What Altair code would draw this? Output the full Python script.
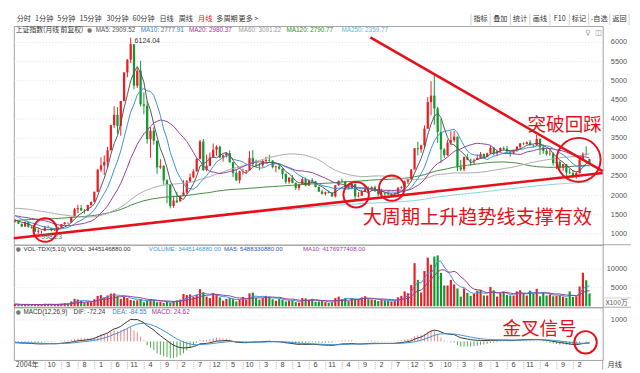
import altair as alt
import pandas as pd

# ---------------- data (monthly, 2004-11 .. 2019-05) ----------------
opens = [
    1320, 1340,
    1261, 1190, 1306, 1180, 1160, 1060, 1080, 1083, 1162, 1155, 1092, 1099,
    1163, 1258, 1299, 1298, 1440, 1641, 1672, 1612, 1601, 1752, 1837, 2099,
    2675, 2786, 2881, 3183, 3841, 4109, 3820, 4471, 5218, 5552, 5955, 4871,
    5262, 4383, 4348, 3473, 3693, 3433, 2736, 2776, 2397, 2293, 1729, 1871,
    1849, 1991, 2082, 2373, 2477, 2632, 2959, 3412, 2667, 2779, 2995, 3195,
    3277, 2989, 3051, 3110, 2870, 2593, 2398, 2638, 2638, 2656, 2978, 2820,
    2808, 2790, 2905, 2928, 2911, 2743, 2762, 2701, 2567, 2359, 2468, 2333,
    2199, 2292, 2428, 2262, 2396, 2373, 2225, 2103, 2047, 2086, 2069, 1980,
    2269, 2385, 2366, 2237, 2178, 2301, 1979, 1994, 2098, 2175, 2142, 2220,
    2116, 2033, 2056, 2033, 2026, 2039, 2048, 2201, 2217, 2364, 2420, 2683,
    3235, 3210, 3310, 3748, 4442, 4612, 4277, 3664, 3206, 3053, 3383, 3445,
    3539, 2738, 2688, 3004, 2938, 2917, 2930, 2979, 3085, 3005, 3100, 3250,
    3104, 3159, 3242, 3223, 3155, 3117, 3192, 3273, 3361, 3349, 3393, 3317,
    3307, 3481, 3259, 3169, 3082, 3095, 2847, 2876, 2725, 2821, 2603, 2588,
    2497, 2584, 2941, 3091, 2954,
]
highs = [
    1388, 1345,
    1270, 1328, 1317, 1222, 1164, 1147, 1084, 1208, 1223, 1157, 1113, 1180,
    1262, 1304, 1302, 1445, 1677, 1758, 1757, 1648, 1762, 1840, 2102, 2698,
    2994, 3050, 3275, 3848, 4335, 4312, 4471, 5219, 5562, 6124.04, 5914, 5330,
    5523, 4695, 4473, 3786, 3786, 3434, 2952, 2794, 2428, 2301, 2000, 2101,
    2010, 2402, 2405, 2579, 2689, 2975, 3454, 3478, 3068, 3123, 3361, 3313,
    3306, 3074, 3137, 3181, 2880, 2690, 2650, 2705, 2671, 3159, 3186, 2940,
    2853, 2942, 3017, 3067, 2925, 2781, 2826, 2713, 2581, 2475, 2536, 2339,
    2302, 2478, 2477, 2416, 2453, 2378, 2242, 2154, 2103, 2127, 2089, 2276,
    2394, 2445, 2383, 2268, 2335, 2315, 2092, 2148, 2270, 2242, 2243, 2260,
    2116, 2177, 2083, 2146, 2061, 2075, 2223, 2248, 2391, 2435, 2683, 3239,
    3406, 3329, 3835, 4572, 4986, 5178, 4317, 4007, 3243, 3459, 3678, 3684,
    3539, 2934, 3019, 3097, 2963, 2968, 3070, 3140, 3101, 3122, 3301, 3265,
    3174, 3260, 3284, 3295, 3157, 3193, 3291, 3373, 3392, 3420, 3451, 3327,
    3587, 3495, 3334, 3220, 3219, 3128, 2915, 2916, 2827, 2827, 2703, 2667,
    2630, 2997, 3129, 3288, 2954,
]
lows = [
    1300, 1259,
    1176, 1187, 1163, 1136, 1044, 998.23, 1004, 1078, 1142, 1067, 1074, 1095,
    1161, 1234, 1257, 1295, 1427, 1541, 1601, 1527, 1591, 1714, 1835, 2086,
    2617, 2541, 2723, 3180, 3768, 3615, 3563, 4459, 5094, 5463, 4778, 4812,
    4330, 4124, 3357, 2990, 3333, 2567, 2692, 2284, 1802, 1664, 1678, 1814,
    1844, 1990, 2037, 2352, 2462, 2630, 2940, 2640, 2639, 2763, 2990, 3039,
    2986, 2890, 2994, 2861, 2481, 2382, 2319, 2549, 2568, 2656, 2768, 2721,
    2661, 2736, 2850, 2887, 2707, 2610, 2675, 2437, 2307, 2307, 2319, 2149,
    2132, 2289, 2242, 2254, 2332, 2212, 2100, 2030, 1999, 2056, 1959, 1949,
    2259, 2349, 2224, 2161, 2166, 1849, 1951, 1992, 2093, 2124, 2130, 2095,
    1984, 2030, 1974, 2012, 1991, 2010, 2042, 2175, 2211, 2300, 2404, 2681,
    3049, 3119, 3240, 3740, 4099, 3847, 3373, 2850, 2983, 3040, 3327, 3391,
    2639, 2638, 2633, 2922, 2781, 2807, 2930, 2958, 2969, 3003, 3093, 3054,
    3044, 3139, 3180, 3111, 3017, 3081, 3145, 3209, 3318, 3339, 3301, 3254,
    3305, 3062, 3091, 3041, 3041, 2782, 2691, 2653, 2644, 2449, 2560, 2463,
    2440, 2580, 2935, 3044, 2838,
]
closes = [
    1340, 1266,
    1191, 1306, 1181, 1159, 1060, 1080, 1083, 1162, 1155, 1092, 1099, 1161,
    1258, 1299, 1298, 1440, 1641, 1672, 1612, 1601, 1752, 1837, 2099, 2675,
    2786, 2881, 3183, 3841, 4109, 3820, 4471, 5218, 5552, 5955, 4871, 5262,
    4383, 4348, 3473, 3693, 3433, 2736, 2776, 2397, 2293, 1729, 1871, 1821,
    1991, 2082, 2373, 2477, 2632, 2959, 3412, 2667, 2779, 2995, 3195, 3277,
    2989, 3051, 3110, 2870, 2593, 2398, 2638, 2639, 2656, 2978, 2820, 2808,
    2790, 2905, 2928, 2911, 2743, 2762, 2701, 2567, 2359, 2468, 2333, 2199,
    2292, 2428, 2262, 2396, 2373, 2225, 2103, 2047, 2086, 2069, 1980, 2269,
    2385, 2366, 2237, 2178, 2301, 1979, 1994, 2098, 2175, 2142, 2220, 2116,
    2033, 2056, 2033, 2026, 2039, 2048, 2201, 2217, 2364, 2420, 2683, 3235,
    3210, 3310, 3748, 4442, 4612, 4277, 3664, 3206, 3053, 3383, 3445, 3539,
    2738, 2688, 3004, 2938, 2917, 2930, 2979, 3085, 3005, 3100, 3250, 3104,
    3159, 3242, 3223, 3155, 3117, 3192, 3273, 3361, 3349, 3393, 3317, 3307,
    3481, 3259, 3169, 3082, 3095, 2847, 2876, 2725, 2821, 2603, 2588, 2494,
    2584, 2941, 3091, 3078, 2854,
]
# volume, x100万
volumes = [
    600, 450,
    400, 480, 520, 380, 420, 560, 420, 650, 580, 420, 380, 560,
    700, 800, 750, 1300, 2000, 1800, 1500, 1000, 1200, 1100, 1900, 2800,
    3000, 2400, 2900, 3400, 3500, 2700, 2000, 2500, 2200, 1700, 1500, 1600,
    2000, 1100, 1500, 1900, 1600, 1100, 1200, 900, 1300, 1000, 1400, 1600,
    1800, 3300, 3000, 3200, 2600, 3100, 4600, 3800, 2600, 2200, 3600, 3200,
    2400, 1500, 2000, 2200, 1900, 1300, 1800, 2500, 1700, 3500, 3700, 2200,
    1800, 2200, 2800, 2600, 1900, 1500, 2000, 1800, 1300, 1500, 1600, 1100,
    1000, 2200, 2100, 1700, 2000, 1200, 1300, 1400, 1100, 900, 1100, 2200,
    2600, 1900, 2200, 1400, 2200, 2000, 1900, 2400, 2700, 1900, 1800, 1700,
    1400, 1800, 1600, 1500, 1300, 1400, 2400, 2800, 4000, 3500, 5700, 11600,
    7100, 3700, 9500, 13100, 11200, 13400, 13700, 9000, 5600, 5600, 7100, 5900,
    4800, 2600, 4800, 3600, 2800, 3300, 4200, 4400, 2900, 2900, 5200, 4300,
    2600, 3500, 3900, 3000, 2900, 2900, 4000, 4300, 3500, 2900, 4200, 3400,
    4700, 2700, 3600, 2900, 3200, 2700, 2800, 2900, 2600, 2300, 4000, 2500,
    2700, 5300, 9000, 7000, 3445,
]
# earlier monthly closes (1990-12 .. 2004-10), only used for the moving averages / MACD
hist_closes = [
    127,
    129, 134, 120, 113, 114, 137, 144, 180, 180, 219, 259, 292,
    313, 365, 371, 445, 1266, 1174, 1048, 823, 665, 538, 749, 780,
    1229, 1391, 926, 1358, 1000, 1007, 1007, 925, 889, 865, 1000, 833,
    770, 792, 679, 570, 547, 466, 334, 784, 869, 691, 698, 647,
    563, 549, 643, 573, 700, 630, 712, 768, 733, 716, 625, 555,
    537, 548, 560, 694, 640, 800, 852, 800, 860, 977, 1000, 917,
    930, 985, 1165, 1352, 1300, 1199, 1177, 1195, 1097, 1207, 1128, 1194,
    1209, 1206, 1243, 1342, 1411, 1339, 1308, 1150, 1242, 1217, 1248, 1147,
    1135, 1090, 1158, 1120, 1280, 1690, 1601, 1640, 1560, 1520, 1480, 1367,
    1535, 1715, 1800, 1836, 1894, 1928, 2023, 2005, 1910, 1962, 2070, 2073,
    2066, 1960, 2112, 2119, 2214, 2218, 1920, 1834, 1724, 1690, 1748, 1646,
    1491, 1524, 1580, 1651, 1516, 1733, 1650, 1667, 1581, 1507, 1434, 1358,
    1499, 1512, 1511, 1521, 1576, 1487, 1476, 1421, 1367, 1348, 1397, 1497,
    1590, 1675, 1742, 1595, 1555, 1399, 1386, 1342, 1396, 1320,
]
price_ticks = [1000, 1500, 2000, 2500, 3000, 3500, 4000, 4500, 5000, 5500, 6000]
vol_ticks = [5000, 10000]
macd_ticks = [1000]
month_ticks = list(range(11, 175, 5))   # index of months labelled on the time axis

header_main = [("上证指数(月线 前复权)", "#333333"), ("MA5: 2909.52", "#555555"),
               ("MA10: 2777.91", "#2f86d6"), ("MA20: 2980.37", "#a0349c"),
               ("MA60: 3091.22", "#9c9c9c"), ("MA120: 2790.77", "#2f8f2a"),
               ("MA250: 2359.77", "#4fc0d8")]
header_vol = [("VOL-TDX(5,10)  VVOL: 3445146880.00", "#333333"),
              ("VOLUME: 3445146880.00", "#3a9ad9"),
              ("MA5: 5488330880.00", "#2a5caa"),
              ("MA10: 4176977408.00", "#a0409c")]
header_macd = [("MACD(12,26,9)", "#333333"), ("DIF: -72.24", "#333333"),
               ("DEA: -84.55", "#2f86d6"), ("MACD: 24.62", "#a0349c")]
toolbar_left = ["分时", "1分钟", "5分钟", "15分钟", "30分钟", "60分钟", "日线", "周线", "月线", "多周期", "更多 >"]
toolbar_right = ["指标", "叠加", "统计", "画线", "F10", "标记", "-自选", "返回"]

# ---------------- styling / layout ----------------
RED = "#ec1c24"
GREEN = "#12962f"
ANN = "#e60f1a"
W, H_MAIN, H_VOL, H_MACD = 603, 224, 64, 54
SXP = W / 611.0
SMY = H_MAIN / 232.0
CJK = "Noto Sans CJK SC"
LAT = "Liberation Sans"


def mx(xr):
    return xr * SXP


def my(yr):
    return (yr - 13) * SMY


n_hist = len(hist_closes)
N = len(closes)
df = pd.DataFrame({
    "t": list(range(-n_hist, N)),
    "close": [float(v) for v in hist_closes + closes],
    "open": [None] * n_hist + opens,
    "high": [None] * n_hist + highs,
    "low": [None] * n_hist + lows,
    "vol": [None] * n_hist + volumes,
})
s = df["close"].astype(float)
df["dif"] = s.ewm(span=12, adjust=False).mean() - s.ewm(span=26, adjust=False).mean()
df["dea"] = df["dif"].ewm(span=9, adjust=False).mean()
df["macd"] = 2 * (df["dif"] - df["dea"])

ONE = pd.DataFrame({"a": [0]})
XS = alt.Scale(domain=[-0.39, 178.0], nice=False, zero=False)
SORT = [alt.SortField(field="t", order="ascending")]
UP = alt.when("datum.close >= datum.open").then(alt.value(RED)).otherwise(alt.value(GREEN))


def X():
    return alt.X("t:Q", scale=XS, axis=None, title=None)


def txt(s_, x, y, color="#333333", size=7.2, font=LAT, align="left"):
    return alt.Chart(ONE).mark_text(align=align, baseline="middle", font=font,
                                    fontSize=size, color=color).encode(
        x=alt.value(x), y=alt.value(y), text=alt.value(s_))


def hrule(x1, x2, y, color="#a8a8a8", w=1):
    return alt.Chart(ONE).mark_rule(color=color, strokeWidth=w).encode(
        x=alt.value(x1), x2=alt.value(x2), y=alt.value(y))


def vrule(x, y1, y2, color="#a8a8a8", w=1):
    return alt.Chart(ONE).mark_rule(color=color, strokeWidth=w).encode(
        x=alt.value(x), y=alt.value(y1), y2=alt.value(y2))


def circle(t, v, r, scale):
    return alt.Chart(pd.DataFrame({"t": [t], "v": [v]})).mark_point(
        shape="circle", filled=False, size=(2 * r) ** 2, strokeWidth=2,
        color=ANN, opacity=1).encode(x=X(), y=alt.Y("v:Q", scale=scale, axis=None))


def y_grid(values, scale):
    return alt.Chart(pd.DataFrame({"v": values})).mark_rule(
        color="#dedede", strokeDash=[1, 2]).encode(
        x=alt.value(0), x2=alt.value(W), y=alt.Y("v:Q", scale=scale, axis=None))


def y_labels(values, scale):
    return alt.Chart(pd.DataFrame({"v": values})).mark_text(
        align="right", baseline="middle", font=LAT, fontSize=7.5, color="#555555").encode(
        x=alt.value(W + 25), y=alt.Y("v:Q", scale=scale, axis=None), text=alt.Text("v:Q", format="d"))


# ---------------- main price panel ----------------
PS = alt.Scale(domain=[716, 6431], nice=False, zero=False)
ma = (alt.Chart(df)
      .transform_window(ma5="mean(close)", frame=[-4, 0], sort=SORT)
      .transform_window(ma10="mean(close)", frame=[-9, 0], sort=SORT)
      .transform_window(ma20="mean(close)", frame=[-19, 0], sort=SORT)
      .transform_window(ma60="mean(close)", frame=[-59, 0], sort=SORT)
      .transform_window(ma120="mean(close)", frame=[-119, 0], sort=SORT)
      .transform_window(ma250="mean(close)", frame=[-249, 0], sort=SORT))
cand = alt.Chart(df).transform_filter("datum.t >= 0")

layers = [
    alt.Chart(ONE).mark_rect(color="white").encode(
        x=alt.value(0), x2=alt.value(632), y=alt.value(-13), y2=alt.value(0)),
    y_grid(price_ticks, PS),
    cand.mark_rule(strokeWidth=1).encode(
        x=X(), y=alt.Y("low:Q", scale=PS, axis=None), y2="high:Q", color=UP),
    cand.mark_rule(strokeWidth=2.3).encode(
        x=X(), y=alt.Y("open:Q", scale=PS, axis=None), y2="close:Q", color=UP),
]
for name, col, start in [("ma250", "#7fd3e6", 82), ("ma120", "#3d8a35", 0), ("ma60", "#aaaaaa", 0),
                         ("ma20", "#963c96", 0), ("ma10", "#3c8fd8", 0), ("ma5", "#555555", 0)]:
    layers.append(ma.transform_filter(f"datum.t >= {start}").mark_line(strokeWidth=1, color=col).encode(
        x=X(), y=alt.Y(f"{name}:Q", scale=PS, axis=None)))

# trend lines (annotation, data coordinates)
up_line = pd.DataFrame({"t": [-0.39, 178.0], "p": [888, 2588]})
down_line = pd.DataFrame({"t": [107.6, 178.0], "p": [6135, 2637]})
for d in (up_line, down_line):
    layers.append(alt.Chart(d).mark_line(color=ANN, strokeWidth=2.6).encode(
        x=X(), y=alt.Y("p:Q", scale=PS, axis=None)))
layers += [circle(9.1, 1099, 12, PS), circle(103.3, 2022, 13, PS),
           circle(114.1, 2195, 13, PS), circle(170.7, 2933, 22.5, PS)]

i_hi = highs.index(max(highs))
i_lo = lows.index(min(lows))
layers.append(alt.Chart(pd.DataFrame({"t": [i_hi], "p": [highs[i_hi]]})).mark_text(
    align="left", baseline="middle", dx=4, dy=3, font=LAT, fontSize=7.2, color="#333333").encode(
    x=X(), y=alt.Y("p:Q", scale=PS, axis=None), text=alt.value(f"{highs[i_hi]:.2f}")))
layers.append(alt.Chart(pd.DataFrame({"t": [i_lo], "p": [lows[i_lo]]})).mark_text(
    align="left", baseline="middle", dx=3, dy=3, font=LAT, fontSize=7, color="#666666").encode(
    x=X(), y=alt.Y("p:Q", scale=PS, axis=None), text=alt.value(f"{lows[i_lo]:.2f}")))
layers.append(y_labels(price_ticks, PS))

# toolbar
tl_x = [3, 22, 45, 68, 96, 123, 151, 171, 191, 210, 233]
for lab, xx in zip(toolbar_left, tl_x):
    layers.append(txt(lab, xx * 0.9875, -6.8, ANN if lab == "月线" else "#333333", 7.3, CJK))
seps = [474, 494, 515, 535, 556, 576, 596, 618, 638]
for i, lab in enumerate(toolbar_right):
    layers.append(txt(lab, (seps[i] + seps[i + 1]) / 2 * 0.9875, -6.8, "#333333", 7.3, CJK, "center"))
for sx in seps:
    layers.append(vrule(sx * 0.9875, -12.5, -1, "#cfcfcf"))
# header
hx = [2, 85, 131.7, 181.7, 233, 283, 340]
for (lab, col), xx in zip(header_main, hx):
    layers.append(txt(lab, mx(xx), 4.6, col, 7.0 if xx == 2 else 6.5, CJK if xx == 2 else LAT))
layers.append(txt("●", mx(76), 4.6, "#777777", 6, "DejaVu Sans"))
layers.append(txt("♀", mx(593), my(20.5), "#999999", 7.5, "DejaVu Sans"))
layers.append(txt("◫", mx(603), my(20.5), "#999999", 7.5, "DejaVu Sans"))
# annotation texts
layers.append(txt("突破回踩", mx(533), my(118.5), ANN, 19, CJK))
layers.append(txt("大周期上升趋势线支撑有效", mx(362), my(216.5), ANN, 19.6, CJK))
layers.append(hrule(W, 632, H_MAIN))
main = alt.layer(*layers).properties(width=W, height=H_MAIN)

# ---------------- volume panel ----------------
VS = alt.Scale(domain=[-263, 16579], nice=False, zero=False)
vb = (alt.Chart(df).transform_filter("datum.t >= 0")
      .transform_window(vma5="mean(vol)", frame=[-4, 0], sort=SORT)
      .transform_window(vma10="mean(vol)", frame=[-9, 0], sort=SORT)
      .transform_calculate(z="0"))
vlayers = [
    y_grid(vol_ticks, VS),
    vb.mark_rule(strokeWidth=2.2).encode(
        x=X(), y=alt.Y("vol:Q", scale=VS, axis=None), y2="z:Q", color=UP),
    vb.mark_line(strokeWidth=1, color="#3c8fd8").encode(x=X(), y=alt.Y("vma5:Q", scale=VS, axis=None)),
    vb.mark_line(strokeWidth=1, color="#963c96").encode(x=X(), y=alt.Y("vma10:Q", scale=VS, axis=None)),
    y_labels(vol_ticks, VS),
    txt("●", 2, 4.3, "#777777", 6, "DejaVu Sans"),
]
for (lab, col), xx in zip(header_vol, [10, 140, 218, 300]):
    vlayers.append(txt(lab, mx(xx), 4.3, col, 6.3, LAT))
vlayers += [txt("X100万", W + 3, 60, "#555555", 7, CJK), hrule(W, 632, 54.5, "#cfcfcf"),
            hrule(W, 632, H_VOL)]
vol = alt.layer(*vlayers).properties(width=W, height=H_VOL)

# ---------------- MACD panel ----------------
MS = alt.Scale(domain=[-864, 1591], nice=False, zero=False, clamp=True)
mb = alt.Chart(df).transform_filter("datum.t >= 0").transform_calculate(z="0")
tick_df = pd.DataFrame({"m": month_ticks})
mlayers = [
    y_grid(macd_ticks, MS),
    mb.mark_rule(strokeWidth=1).encode(
        x=X(), y=alt.Y("macd:Q", scale=MS, axis=None), y2="z:Q",
        color=alt.when("datum.macd >= 0").then(alt.value("#ef8080")).otherwise(alt.value("#4aa84a"))),
    mb.mark_line(strokeWidth=1, color="#333333").encode(x=X(), y=alt.Y("dif:Q", scale=MS, axis=None)),
    mb.mark_line(strokeWidth=1, color="#3c8fd8").encode(x=X(), y=alt.Y("dea:Q", scale=MS, axis=None)),
    y_labels(macd_ticks, MS),
    alt.Chart(tick_df).transform_calculate(tt="datum.m - 1.9").mark_rule(
        color="#b0b0b0", strokeDash=[1, 1]).encode(
        x=alt.X("tt:Q", scale=XS, axis=None), y=alt.value(H_MACD), y2=alt.value(H_MACD + 10)),
    alt.Chart(tick_df).transform_calculate(lab="((datum.m + 10) % 12) + 1").mark_text(
        align="center", baseline="middle", font=LAT, fontSize=7.5, color="#444444").encode(
        x=alt.X("m:Q", scale=XS, axis=None), y=alt.value(H_MACD + 5), text="lab:N"),
    circle(172.8, -45, 11.5, MS),
    txt("●", 2, 5.3, "#777777", 6, "DejaVu Sans"),
    txt("金叉信号", mx(507), 22.5, ANN, 19, CJK),
    txt("2004年", 2, H_MACD + 5, "#444444", 7.3, CJK),
    txt("月线", W + 5, H_MACD + 5, "#333333", 7.3, CJK),
    vrule(W, H_MACD, H_MACD + 10),
]
for (lab, col), xx in zip(header_macd, [10, 62, 102, 143]):
    mlayers.append(txt(lab, mx(xx), 5.3, col, 6.5, LAT))
macd = alt.layer(*mlayers).properties(width=W, height=H_MACD)

chart = (alt.vconcat(main, vol, macd, spacing=0, bounds="flush")
         .properties(padding={"left": 0, "right": 0, "top": 0, "bottom": 0})
         .configure_view(stroke="#a0a0a0", strokeWidth=1))

chart.save("out.html", embed_options={"renderer": "svg", "actions": False})
